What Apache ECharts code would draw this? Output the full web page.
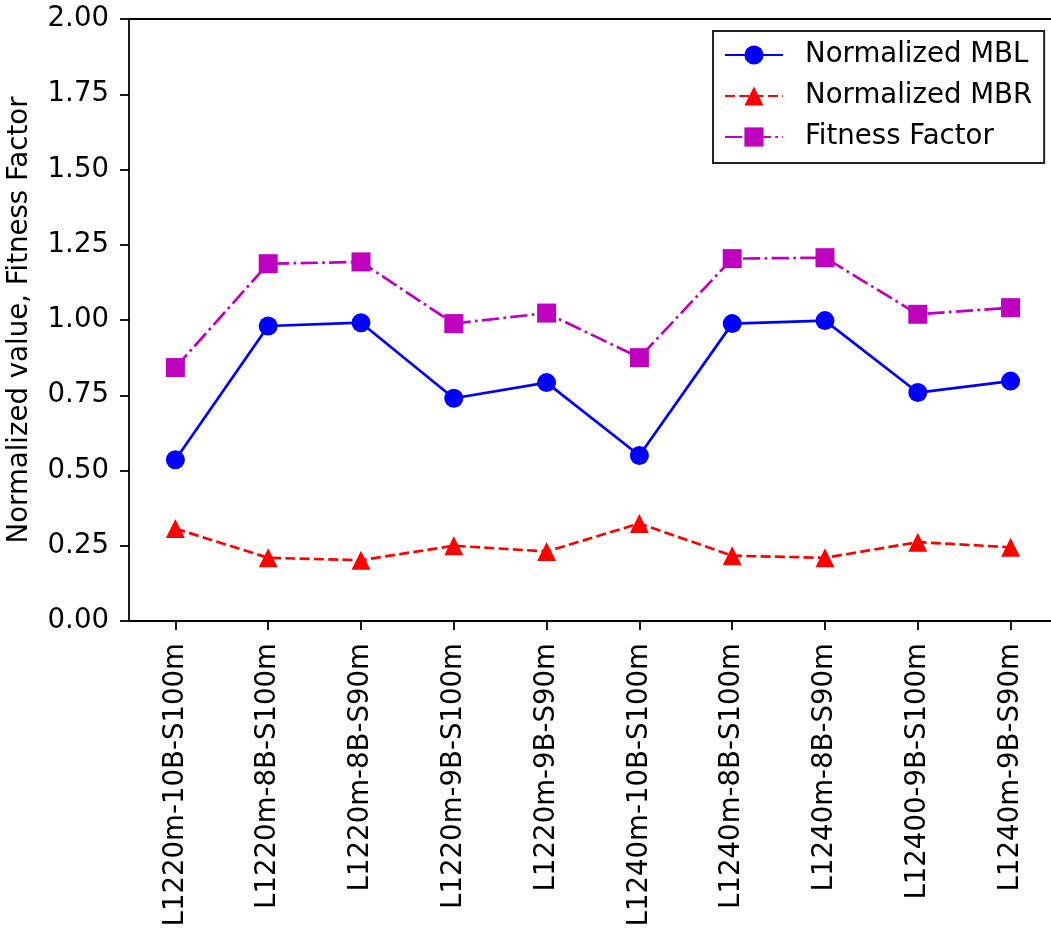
<!DOCTYPE html>
<html>
<head>
<meta charset="utf-8">
<script src="https://cdn.jsdelivr.net/npm/echarts@6/dist/echarts.min.js"></script>
<style>
  html, body { margin: 0; padding: 0; background: #ffffff; }
  #chart { width: 1051px; height: 929px; }
</style>
</head>
<body>
<div id="chart"></div>
<script>
// Configurations along the x axis
const categories = [
  'L1220m-10B-S100m', 'L1220m-8B-S100m', 'L1220m-8B-S90m', 'L1220m-9B-S100m', 'L1220m-9B-S90m',
  'L1240m-10B-S100m', 'L1240m-8B-S100m', 'L1240m-8B-S90m', 'L12400-9B-S100m', 'L1240m-9B-S90m'
];

// Series values
const normalizedMBL = [0.536, 0.980, 0.991, 0.740, 0.792, 0.550, 0.988, 0.998, 0.759, 0.797];
const normalizedMBR = [0.307, 0.210, 0.202, 0.250, 0.231, 0.324, 0.217, 0.210, 0.262, 0.245];
const fitnessFactor = [0.842, 1.187, 1.193, 0.988, 1.023, 0.875, 1.204, 1.207, 1.019, 1.041];

// Y axis ticks
const yMin = 0, yMax = 2, yStep = 0.25;

const FONT = 'DejaVu Sans';
const FS = 27.6;
const LW = 2.7;
const AXIS = { color: '#000000', width: 1.8 };

const chart = echarts.init(document.getElementById('chart'), null, { renderer: 'canvas' });

chart.setOption({
  animation: false,
  backgroundColor: '#ffffff',
  textStyle: { fontFamily: FONT },
  grid: {
    left: 129, top: 19, width: 928, height: 602,
    show: false,
    containLabel: false,
    outerBoundsMode: 'none'
  },
  legend: {
    orient: 'vertical',
    left: 713, top: 31,
    padding: [10, 12, 12, 11],
    itemWidth: 58, itemHeight: 24, itemGap: 13,
    backgroundColor: '#ffffff',
    borderColor: '#222222', borderWidth: 2, borderRadius: 0,
    textStyle: { fontFamily: FONT, fontSize: FS, color: '#000000', padding: [0, 0, 0, 17] },
    data: ['Normalized MBL', 'Normalized MBR', 'Fitness Factor']
  },
  xAxis: [
    {
      type: 'category',
      data: categories,
      boundaryGap: true,
      axisLine: { show: true, lineStyle: AXIS },
      axisTick: { show: true, alignWithLabel: true, length: 9, inside: false, lineStyle: AXIS },
      axisLabel: { rotate: 90, margin: 22, interval: 0, fontFamily: FONT, fontSize: FS, color: '#000000' },
      splitLine: { show: false }
    },
    {
      // top frame line
      type: 'category',
      data: categories,
      position: 'top',
      axisLine: { show: true, lineStyle: AXIS },
      axisTick: { show: false },
      axisLabel: { show: false },
      splitLine: { show: false }
    }
  ],
  yAxis: {
    type: 'value',
    min: yMin, max: yMax, interval: yStep,
    name: 'Normalized value, Fitness Factor',
    nameLocation: 'middle',
    nameGap: 95,
    nameMoveOverlap: false,
    nameTextStyle: { fontFamily: FONT, fontSize: FS, color: '#000000' },
    axisLine: { show: true, lineStyle: AXIS },
    axisTick: { show: true, length: 9, inside: false, lineStyle: AXIS },
    axisLabel: {
      margin: 20, fontFamily: FONT, fontSize: FS, color: '#000000',
      formatter: v => v.toFixed(2)
    },
    splitLine: { show: false }
  },
  series: [
    {
      name: 'Normalized MBL',
      type: 'line',
      data: normalizedMBL,
      symbol: 'circle', symbolSize: 19,
      itemStyle: { color: '#0000ff' },
      lineStyle: { color: '#0000ff', width: LW, type: 'solid' }
    },
    {
      name: 'Normalized MBR',
      type: 'line',
      data: normalizedMBR,
      symbol: 'triangle', symbolSize: 19,
      itemStyle: { color: '#ff0000' },
      lineStyle: { color: '#ff0000', width: LW, type: [10, 4.3] }
    },
    {
      name: 'Fitness Factor',
      type: 'line',
      data: fitnessFactor,
      symbol: 'rect', symbolSize: 19,
      itemStyle: { color: '#bf00bf' },
      lineStyle: { color: '#bf00bf', width: LW, type: [17.3, 4.3, 2.7, 4.3] }
    }
  ]
});
</script>
</body>
</html>
